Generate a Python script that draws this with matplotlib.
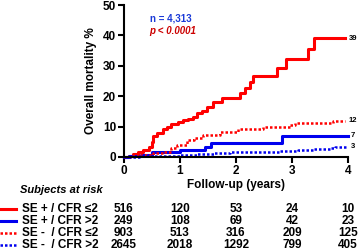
import matplotlib
matplotlib.use("Agg")
from matplotlib import pyplot as plt
from matplotlib.transforms import blended_transform_factory

plt.rcParams['font.family'] = ['Liberation Sans', 'DejaVu Sans']
plt.rcParams['font.weight'] = 'bold'

# curves (years, % mortality)
t_se_pos_low = [0, 0.1, 0.16, 0.25, 0.35, 0.45, 0.5, 0.52, 0.6, 0.7, 0.77, 0.85, 0.96, 1.05,
                1.15, 1.23, 1.3, 1.4, 1.48, 1.59, 1.75, 2.07, 2.16, 2.25, 2.3, 2.73, 2.9,
                3.29, 3.39, 3.95]
v_se_pos_low = [0, 0.3, 1.0, 1.7, 2.3, 3.3, 5.0, 7.0, 8.0, 9.3, 10.0, 10.7, 11.6, 12.3,
                12.5, 13.2, 14.5, 15.0, 16.5, 18.2, 19.5, 21.0, 22.8, 24.6, 26.6, 29.3, 32.2,
                35.6, 39.0, 39.0]

t_se_pos_high = [0, 0.1, 0.3, 0.5, 1.0, 1.45, 1.55, 2.82, 4.0]
v_se_pos_high = [0, 0.4, 0.8, 1.6, 2.4, 3.3, 4.6, 7.0, 7.0]

t_se_neg_low = [0, 0.15, 0.29, 0.52, 0.7, 0.85, 0.95, 1.12, 1.25, 1.41, 1.71, 2.04, 2.48,
                2.96, 3.05, 3.62, 3.73, 3.95]
v_se_neg_low = [0, 0.3, 0.7, 1.3, 1.8, 3.0, 4.0, 5.6, 6.4, 7.3, 8.3, 9.2, 9.8,
                10.5, 11.2, 11.2, 11.9, 12.0]

t_se_neg_high = [0, 0.3, 0.6, 1.0, 1.3, 1.6, 1.9, 2.2, 2.79, 3.1, 3.38, 3.68, 3.77, 4.0]
v_se_neg_high = [0, 0.2, 0.4, 0.7, 1.0, 1.3, 1.5, 1.8, 2.0, 2.3, 2.5, 3.0, 3.3, 3.3]

end_labels = ['39', '7', '12', '3']

# subjects at risk table
risk_times = [0, 1, 2, 3, 4]
row_names = ['SE + / CFR \u22642', 'SE + / CFR >2', 'SE -  / CFR \u22642', 'SE -  / CFR >2']
risk_se_pos_low = [516, 120, 53, 24, 10]
risk_se_pos_high = [249, 108, 69, 42, 23]
risk_se_neg_low = [903, 513, 316, 209, 125]
risk_se_neg_high = [2645, 2018, 1292, 799, 405]

red = '#ff0000'
blue = '#0000ee'
dots = (0, (1, 0.8))

fig = plt.figure(figsize=(3.58, 2.52), dpi=100)
ax = fig.add_axes([0.346, 0.377, 0.626, 0.603])

curves = [
    (t_se_pos_low, v_se_pos_low, red, '-', 2.2),
    (t_se_pos_high, v_se_pos_high, blue, '-', 2.2),
    (t_se_neg_low, v_se_neg_low, red, dots, 1.8),
    (t_se_neg_high, v_se_neg_high, blue, dots, 1.8),
]
for (t, v, c, ls, lw), lab in zip(curves, end_labels):
    ax.step(t, v, where='post', color=c, linestyle=ls, linewidth=lw, clip_on=False)
    ax.text(4.09, v[-1], lab, fontsize=5.5, fontweight='bold', va='center', ha='center')

ax.set_xlim(0, 4)
ax.set_ylim(0, 50)
ax.set_xticks([0, 1, 2, 3, 4])
ax.set_yticks([0, 10, 20, 30, 40, 50])
for s in ['top', 'right']:
    ax.spines[s].set_visible(False)
for s in ['left', 'bottom']:
    ax.spines[s].set_linewidth(1.5)
ax.tick_params(width=1.5, length=4, labelsize=8.5, pad=1.5)
ax.set_xlabel('Follow-up (years)', fontsize=8.5, fontweight='bold', labelpad=2)
ax.set_ylabel('Overall mortality %', fontsize=8.5, fontweight='bold', labelpad=4)

ax.text(0.46, 45.5, 'n = 4,313', color='#1a3ad8', fontsize=7, fontweight='bold', va='center')
ax.text(0.46, 41.6, 'p < 0.0001', color='#cc0000', fontsize=7, fontweight='bold',
        style='italic', va='center')

# risk table below the plot
tr = blended_transform_factory(ax.transData, fig.transFigure)
fig.text(20 / 358, 1 - 190 / 252, 'Subjects at risk', fontsize=8, fontweight='bold',
         style='italic', va='center')
rows = [risk_se_pos_low, risk_se_pos_high, risk_se_neg_low, risk_se_neg_high]
row_y = [209, 221, 233, 245]
for i, (name, vals, yp) in enumerate(zip(row_names, rows, row_y)):
    t, v, c, ls, lw = curves[i]
    yf = 1 - yp / 252
    fig.add_artist(plt.Line2D([0, 16 / 358], [yf, yf], color=c, linestyle=ls, linewidth=lw,
                              transform=fig.transFigure))
    fig.text(22 / 358, yf, name, fontsize=8.5, fontweight='bold', va='center', ha='left')
    for tt, n in zip(risk_times, vals):
        ax.text(tt, yf, str(n), transform=tr, fontsize=8.5, fontweight='bold',
                va='center', ha='center')

fig.savefig('out.png', dpi=100)
